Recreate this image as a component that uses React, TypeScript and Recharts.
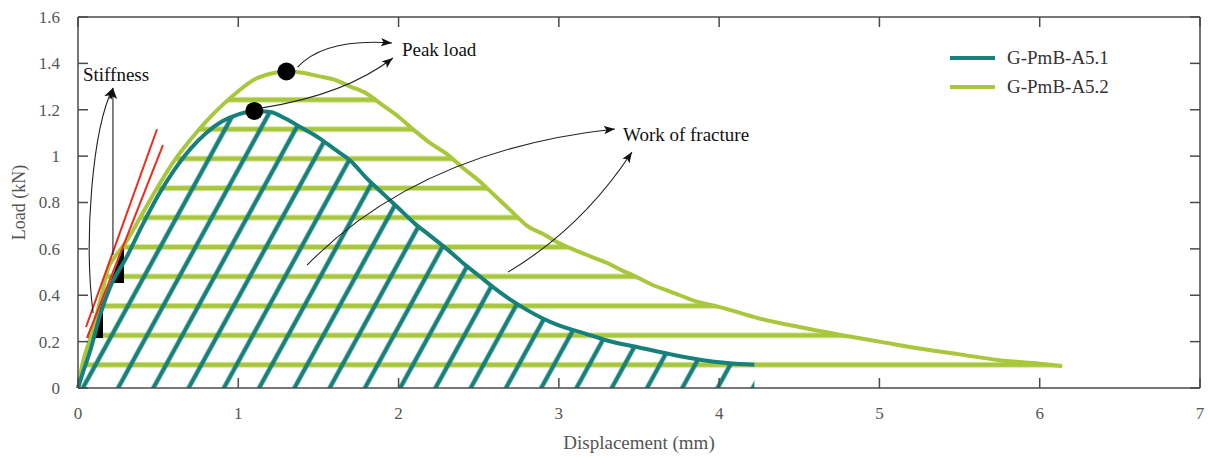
import {
  ComposedChart,
  Area,
  Line,
  XAxis,
  YAxis,
  Legend,
  ReferenceDot,
  ReferenceLine,
  ReferenceArea,
} from 'recharts';

// Load–displacement curves of the two specimens
const disp51 = [0, 0.03, 0.08, 0.14, 0.2, 0.3, 0.4, 0.5, 0.6, 0.7, 0.8, 0.9, 1.0, 1.1, 1.2, 1.3, 1.4, 1.5, 1.6, 1.7, 1.8, 1.9, 2.0, 2.1, 2.2, 2.3, 2.4, 2.5, 2.6, 2.7, 2.8, 2.9, 3.0, 3.15, 3.3, 3.5, 3.7, 3.9, 4.05, 4.22];
const load51 = [0, 0.065, 0.17, 0.32, 0.435, 0.56, 0.7, 0.83, 0.94, 1.03, 1.1, 1.15, 1.18, 1.195, 1.19, 1.16, 1.12, 1.08, 1.03, 0.98, 0.905, 0.84, 0.775, 0.71, 0.655, 0.6, 0.54, 0.485, 0.43, 0.38, 0.337, 0.3, 0.27, 0.238, 0.205, 0.175, 0.145, 0.12, 0.108, 0.1];

const disp52 = [0, 0.03, 0.075, 0.14, 0.19, 0.23, 0.3, 0.4, 0.5, 0.6, 0.7, 0.8, 0.9, 1.0, 1.1, 1.2, 1.3, 1.4, 1.5, 1.6, 1.7, 1.8, 1.9, 2.0, 2.1, 2.2, 2.3, 2.4, 2.5, 2.6, 2.7, 2.76, 2.8, 2.9, 3.0, 3.1, 3.2, 3.3, 3.4, 3.46, 3.6, 3.7, 3.85, 4.0, 4.25, 4.5, 4.75, 5.0, 5.25, 5.5, 5.75, 6.0, 6.14];
const load52 = [0, 0.11, 0.21, 0.38, 0.52, 0.565, 0.63, 0.75, 0.87, 0.98, 1.07, 1.15, 1.22, 1.28, 1.33, 1.355, 1.365, 1.36, 1.345, 1.33, 1.3, 1.27, 1.22, 1.17, 1.11, 1.055, 1.01, 0.95, 0.895, 0.83, 0.765, 0.725, 0.7, 0.665, 0.625, 0.595, 0.567, 0.54, 0.505, 0.487, 0.44, 0.415, 0.375, 0.35, 0.3, 0.263, 0.23, 0.2, 0.17, 0.145, 0.12, 0.105, 0.095];

const seriesNames = ['G-PmB-A5.1', 'G-PmB-A5.2'];
const xTicks = [0, 1, 2, 3, 4, 5, 6, 7];
const yTicks = [0, 0.2, 0.4, 0.6, 0.8, 1, 1.2, 1.4, 1.6];

// merged table keyed by displacement
const rows = new Map<number, { x: number; a51?: number; a52?: number }>();
disp51.forEach((x, i) => rows.set(x, { ...(rows.get(x) || { x }), a51: load51[i] }));
disp52.forEach((x, i) => rows.set(x, { ...(rows.get(x) || { x }), a52: load52[i] }));
const data = [...rows.values()].sort((a, b) => a.x - b.x);

const peakIdx = (arr: number[]) => arr.indexOf(Math.max(...arr));
const peak51 = { x: disp51[peakIdx(load51)], y: load51[peakIdx(load51)] };
const peak52 = { x: disp52[peakIdx(load52)], y: load52[peakIdx(load52)] };

const TEAL = '#16807b';
const GREEN = '#a8c73c';
const RED = '#ee2a1c';
const AXIS = '#4a4a4a';
const FONT = '"Liberation Serif", "DejaVu Serif", serif';

// the chart fills the whole page (body margin removed)
const CHART_W = 1208;
const CHART_H = 457;
const PLOT_LEFT = 78;
const PLOT_TOP = 17;
const PLOT_RIGHT = 1200;
const PLOT_BOTTOM = 388;
const PLOT_W = PLOT_RIGHT - PLOT_LEFT;
const PLOT_H = PLOT_BOTTOM - PLOT_TOP;
const X_MAX = 7;
const Y_MAX = 1.6;
const TICK_LEN = 10;

const sx = (x: number) => PLOT_LEFT + (x / X_MAX) * PLOT_W;
const sy = (y: number) => PLOT_BOTTOM - (y / Y_MAX) * PLOT_H;

// hatch spacing (in data units) for the two work-of-fracture fills
const H_HATCH_FIRST = 0.1;
const H_HATCH_STEP = 0.127;
const D_HATCH_ORIGIN = 0.25;
const D_HATCH_STEP = 0.22;
const D_HATCH_SKEW = 28.8;

const hGap = (H_HATCH_STEP / Y_MAX) * PLOT_H;
const dGap = (D_HATCH_STEP / X_MAX) * PLOT_W;

const BottomTick = ({ x, y, payload }: any) => (
  <g>
    <line x1={x} x2={x} y1={y} y2={y - TICK_LEN} stroke={AXIS} strokeWidth={1.5} />
    <text x={x} y={y + 31} textAnchor="middle" fill="#555" fontSize={17} fontFamily={FONT}>
      {payload.value}
    </text>
  </g>
);

const LeftTick = ({ x, y, payload }: any) => (
  <g>
    <line x1={x} x2={x + TICK_LEN} y1={y} y2={y} stroke={AXIS} strokeWidth={1.5} />
    <text x={x - 18} y={y} dy="0.35em" textAnchor="end" fill="#555" fontSize={17} fontFamily={FONT}>
      {payload.value}
    </text>
  </g>
);

const SlopeTriangle = ({ x, y, width, height }: any) => (
  <polygon points={`${x},${y + height} ${x + width},${y + height} ${x + width},${y}`} fill="#000" />
);

const renderLegend = ({ payload }: any) => (
  <div>
    {(payload || [])
      .filter((entry: any) => seriesNames.includes(entry.value))
      .sort((a: any, b: any) => String(a.value).localeCompare(String(b.value)))
      .map((entry: any) => (
        <div key={entry.value} style={{ display: 'flex', alignItems: 'center', height: 29 }}>
          <svg width={45} height={6}>
            <line x1={0} x2={45} y1={3} y2={3} stroke={entry.color} strokeWidth={4} />
          </svg>
          <span style={{ marginLeft: 12, fontFamily: FONT, fontSize: 19, color: '#333' }}>
            {entry.value}
          </span>
        </div>
      ))}
  </div>
);

// curved annotation arrows, in data coordinates
const quad = (p: number[][]) =>
  `M${sx(p[0][0])},${sy(p[0][1])} Q${sx(p[1][0])},${sy(p[1][1])} ${sx(p[2][0])},${sy(p[2][1])}`;
const cubic = (p: number[][]) =>
  `M${sx(p[0][0])},${sy(p[0][1])} C${sx(p[1][0])},${sy(p[1][1])} ${sx(p[2][0])},${sy(p[2][1])} ${sx(p[3][0])},${sy(p[3][1])}`;

const arrows = [
  quad([[1.37, 1.384], [1.54, 1.509], [1.959, 1.488]]),
  quad([[1.148, 1.208], [1.666, 1.264], [1.965, 1.423]]),
  `M${sx(0.218)},${sy(0.574)} L${sx(0.218)},${sy(1.294)}`,
  cubic([[0.094, 0.323], [0.037, 0.638], [0.087, 1.113], [0.218, 1.294]]),
  quad([[1.429, 0.53], [2.134, 1.026], [3.35, 1.117]]),
  quad([[2.683, 0.5], [3.144, 0.69], [3.456, 1.018]]),
];

const notes = [
  { text: 'Peak load', x: 2.021, y: 1.432 },
  { text: 'Stiffness', x: 0.031, y: 1.324 },
  { text: 'Work of fracture', x: 3.4, y: 1.065 },
];

export default function App() {
  return (
    <div style={{ position: 'relative', width: CHART_W, height: CHART_H }}>
      <style>{'body { margin: 0; }'}</style>
      <ComposedChart
        width={CHART_W}
        height={CHART_H}
        data={data}
        margin={{ top: PLOT_TOP, right: CHART_W - PLOT_RIGHT, bottom: 0, left: 0 }}
        style={{ fontFamily: FONT }}
      >
        <defs>
          <pattern
            id="hatch52"
            patternUnits="userSpaceOnUse"
            width={CHART_W}
            height={hGap}
            patternTransform={`translate(0 ${sy(H_HATCH_FIRST) - hGap / 2})`}
          >
            <line x1={0} x2={CHART_W} y1={hGap / 2} y2={hGap / 2} stroke={GREEN} strokeWidth={5} />
          </pattern>
          <pattern
            id="hatch51"
            patternUnits="userSpaceOnUse"
            width={dGap}
            height={20}
            patternTransform={`translate(${sx(D_HATCH_ORIGIN) - dGap / 2} ${PLOT_BOTTOM}) skewX(${-D_HATCH_SKEW})`}
          >
            <line x1={dGap / 2} x2={dGap / 2} y1={0} y2={20} stroke={TEAL} strokeWidth={5} />
          </pattern>
        </defs>

        <XAxis
          dataKey="x"
          type="number"
          domain={[0, X_MAX]}
          ticks={xTicks}
          height={CHART_H - PLOT_BOTTOM}
          tickSize={0}
          tickMargin={0}
          tickLine={false}
          tick={<BottomTick />}
          axisLine={{ stroke: AXIS, strokeWidth: 1.5 }}
          label={{ value: 'Displacement (mm)', position: 'insideBottom', offset: 8, fill: '#555', fontSize: 19 }}
        />
        <YAxis
          type="number"
          domain={[0, Y_MAX]}
          ticks={yTicks}
          width={PLOT_LEFT}
          tickSize={0}
          tickMargin={0}
          tickLine={false}
          tick={<LeftTick />}
          axisLine={{ stroke: AXIS, strokeWidth: 1.5 }}
          label={{
            value: 'Load (kN)',
            angle: -90,
            position: 'insideLeft',
            offset: 19,
            fill: '#555',
            fontSize: 18,
            style: { textAnchor: 'middle' },
          }}
        />

        <Area
          type="monotone"
          dataKey="a52"
          connectNulls
          stroke="none"
          fill="url(#hatch52)"
          fillOpacity={1}
          legendType="none"
          dot={false}
          activeDot={false}
          isAnimationActive={false}
        />
        <Area
          type="monotone"
          dataKey="a51"
          connectNulls
          stroke="none"
          fill="url(#hatch51)"
          fillOpacity={1}
          legendType="none"
          dot={false}
          activeDot={false}
          isAnimationActive={false}
        />
        <Line
          type="monotone"
          dataKey="a52"
          name={seriesNames[1]}
          connectNulls
          stroke={GREEN}
          strokeWidth={4}
          dot={false}
          activeDot={false}
          isAnimationActive={false}
        />
        <Line
          type="monotone"
          dataKey="a51"
          name={seriesNames[0]}
          connectNulls
          stroke={TEAL}
          strokeWidth={4}
          dot={false}
          activeDot={false}
          isAnimationActive={false}
        />

        {/* closing frame on the top and right sides */}
        <ReferenceLine y={Y_MAX} stroke={AXIS} strokeWidth={1.5} ifOverflow="visible" />
        <ReferenceLine x={X_MAX} stroke={AXIS} strokeWidth={1.5} ifOverflow="visible" />

        {/* initial stiffness tangents and slope markers */}
        <ReferenceLine segment={[{ x: 0.05, y: 0.263 }, { x: 0.493, y: 1.116 }]} stroke={RED} strokeWidth={2} />
        <ReferenceLine segment={[{ x: 0.056, y: 0.216 }, { x: 0.53, y: 1.047 }]} stroke={RED} strokeWidth={2} />
        <ReferenceArea x1={0.062} x2={0.156} y1={0.216} y2={0.379} shape={<SlopeTriangle />} />
        <ReferenceArea x1={0.2} x2={0.287} y1={0.453} y2={0.616} shape={<SlopeTriangle />} />

        <ReferenceDot x={peak51.x} y={peak51.y} r={9} fill="#000" stroke="none" />
        <ReferenceDot x={peak52.x} y={peak52.y} r={9} fill="#000" stroke="none" />

        <Legend
          layout="vertical"
          align="center"
          verticalAlign="middle"
          wrapperStyle={{ left: 950, top: 43, width: 'auto' }}
          content={renderLegend}
        />
      </ComposedChart>

      <svg
        width={CHART_W}
        height={CHART_H}
        style={{ position: 'absolute', left: 0, top: 0, pointerEvents: 'none' }}
      >
        <defs>
          <marker
            id="arrowHead"
            markerUnits="userSpaceOnUse"
            markerWidth={12}
            markerHeight={10}
            refX={11}
            refY={5}
            orient="auto"
          >
            <path d="M0,0.8 L11,5 L0,9.2 L2.5,5 Z" fill="#111" />
          </marker>
        </defs>
        {/* inward ticks mirrored on the top and right frame */}
        {xTicks.map((t) => (
          <line key={`tx${t}`} x1={sx(t)} x2={sx(t)} y1={PLOT_TOP} y2={PLOT_TOP + TICK_LEN} stroke={AXIS} strokeWidth={1.5} />
        ))}
        {yTicks.map((t) => (
          <line key={`ty${t}`} x1={PLOT_RIGHT} x2={PLOT_RIGHT - TICK_LEN} y1={sy(t)} y2={sy(t)} stroke={AXIS} strokeWidth={1.5} />
        ))}
        {arrows.map((d, i) => (
          <path key={i} d={d} fill="none" stroke="#222" strokeWidth={1.1} markerEnd="url(#arrowHead)" />
        ))}
        {notes.map((n) => (
          <text key={n.text} x={sx(n.x)} y={sy(n.y)} fontFamily={FONT} fontSize={19} fill="#111">
            {n.text}
          </text>
        ))}
      </svg>
    </div>
  );
}
